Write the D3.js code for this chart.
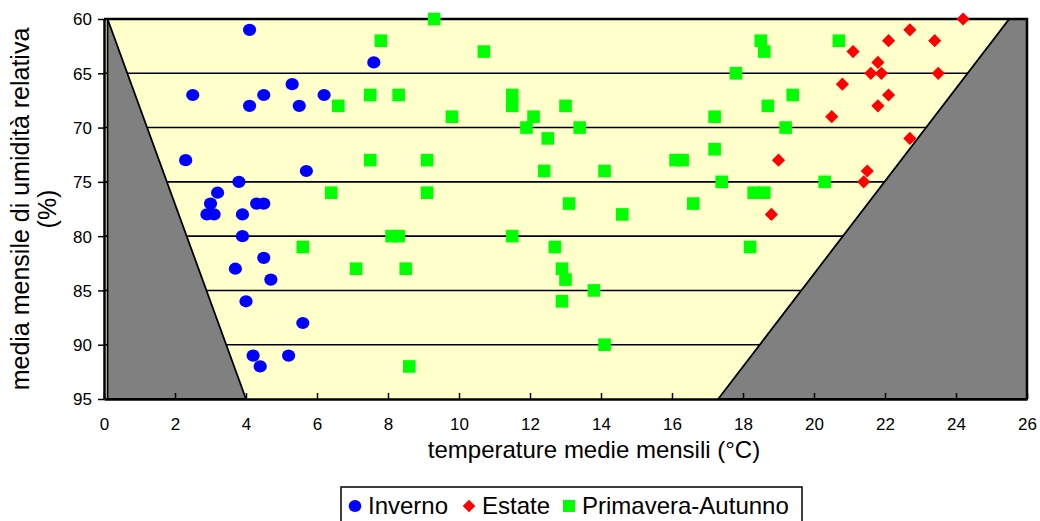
<!DOCTYPE html>
<html><head><meta charset="utf-8">
<script src="https://cdn.jsdelivr.net/npm/d3@7"></script>
<style>body{margin:0;background:#fff}svg{display:block;font-family:"Liberation Sans",Arial,sans-serif}</style>
</head><body>
<svg id="c" width="1040" height="521"></svg>
<script>
// ---- data ----
const inverno = [[4.1,61],[2.5,67],[4.1,68],[4.5,67],[5.3,66],[5.5,68],[6.2,67],[7.6,64],[2.3,73],[5.7,74],[3.8,75],[3.2,76],[3.0,77],[4.3,77],[4.5,77],[2.9,78],[3.1,78],[3.9,78],[3.9,80],[4.5,82],[3.7,83],[4.7,84],[4.0,86],[5.6,88],[4.2,91],[5.2,91],[4.4,92]];
const estate = [[24.2,60],[22.7,61],[22.1,62],[23.4,62],[21.1,63],[21.8,64],[21.6,65],[21.9,65],[23.5,65],[20.8,66],[22.1,67],[21.8,68],[20.5,69],[22.7,71],[19.0,73],[21.5,74],[21.4,75],[18.8,78]];
const primaveraAutunno = [[6.6,68],[6.4,76],[9.3,60],[7.8,62],[10.7,63],[7.5,67],[8.3,67],[11.5,67],[11.5,68],[13.0,68],[9.8,69],[12.1,69],[11.9,70],[13.4,70],[12.5,71],[7.5,73],[9.1,73],[12.4,74],[14.1,74],[9.1,76],[13.1,77],[8.1,80],[8.3,80],[11.5,80],[12.7,81],[7.1,83],[8.5,83],[12.9,83],[13.0,84],[13.8,85],[12.9,86],[14.1,90],[8.6,92],[5.6,81],[18.5,62],[18.6,63],[20.7,62],[17.8,65],[19.4,67],[18.7,68],[17.2,69],[19.2,70],[17.2,72],[16.1,73],[16.3,73],[17.4,75],[20.3,75],[18.3,76],[18.6,76],[16.6,77],[14.6,78],[18.2,81]];
const leftZone = [[0.1,60],[4,95],[0.1,95]];
const rightZone = [[25.5,60],[26,60],[26,95],[17.3,95]];
const xTicks = [0,2,4,6,8,10,12,14,16,18,20,22,24,26];
const yTicks = [60,65,70,75,80,85,90,95];
const seriesNames = ["Inverno","Estate","Primavera-Autunno"];
const seriesColors = ["#0000FF","#FF0000","#00FF00"];
const xTitle = "temperature medie mensili (°C)";
const yTitle = ["media mensile di umidità relativa","(%)"];

// ---- chart ----
const svg = d3.select("#c");
const x = d3.scaleLinear().domain([0,26]).range([104,1027]);
const y = d3.scaleLinear().domain([60,95]).range([19,399]);

svg.append("rect").attr("x",x(0)).attr("y",y(60)).attr("width",x(26)-x(0)).attr("height",y(95)-y(60)).attr("fill","#FFFFCC");

// gridlines
svg.append("g").selectAll("line").data(yTicks.slice(1,-1)).join("line")
  .attr("x1",x(0)).attr("x2",x(26)).attr("y1",d=>y(d)).attr("y2",d=>y(d))
  .attr("stroke","#000").attr("stroke-width",1.6);

// gray zones
const line = d3.line().x(d=>x(d[0])).y(d=>y(d[1]));
[leftZone,rightZone].forEach(z=>{
  svg.append("path").attr("d",line(z)+"Z").attr("fill","#808080").attr("stroke","#000").attr("stroke-width",1.8).attr("stroke-linejoin","miter");
});

// frame (top & right)
svg.append("path").attr("d",`M${x(0)},${y(60)}H${x(26)}V${y(95)}`).attr("fill","none").attr("stroke","#000").attr("stroke-width",2.5);

// axes
const xAxis = svg.append("g").attr("transform",`translate(0,${y(95)})`)
  .call(d3.axisBottom(x).tickValues(xTicks).tickSizeInner(-6).tickSizeOuter(0).tickPadding(31));
const yAxis = svg.append("g").attr("transform",`translate(${x(0)},0)`)
  .call(d3.axisLeft(y).tickValues(yTicks).tickSizeInner(6).tickSizeOuter(0).tickPadding(6));
[xAxis,yAxis].forEach(a=>{
  a.select(".domain").attr("stroke","#000").attr("stroke-width",2.5);
  a.selectAll(".tick line").attr("stroke","#000").attr("stroke-width",1.5);
  a.selectAll("text").attr("fill","#000").style("font-size","17px").style("font-family","'Liberation Sans',Arial,sans-serif");
});
xAxis.selectAll("text").attr("dy","0");
yAxis.selectAll("text").attr("dy","0.35em");

// titles
svg.append("text").attr("x",594).attr("y",458).attr("text-anchor","middle").style("font-size","24px").text(xTitle);
const yt = svg.append("text").attr("transform",`translate(29,${(y(60)+y(95))/2}) rotate(-90)`).attr("text-anchor","middle").style("font-size","25px");
yTitle.forEach((t,i)=>yt.append("tspan").attr("x",0).attr("dy",i?27:0).text(t));

// markers
const diamond = r=>`M0,${-r}L${r},0L0,${r}L${-r},0Z`;
svg.append("g").selectAll("ellipse").data(inverno).join("ellipse")
  .attr("cx",d=>x(d[0])).attr("cy",d=>y(d[1])).attr("rx",6.6).attr("ry",6.1).attr("fill",seriesColors[0]);
svg.append("g").selectAll("path").data(estate).join("path")
  .attr("transform",d=>`translate(${x(d[0])},${y(d[1])})`).attr("d",diamond(6.6)).attr("fill",seriesColors[1]);
svg.append("g").selectAll("rect").data(primaveraAutunno).join("rect")
  .attr("x",d=>x(d[0])-6.3).attr("y",d=>y(d[1])-6.3).attr("width",12.6).attr("height",12.6).attr("fill",seriesColors[2]);

// legend
const lg = svg.append("g");
lg.append("rect").attr("x",341).attr("y",487).attr("width",461).attr("height",50).attr("fill","#fff").attr("stroke","#000").attr("stroke-width",1.5);
const lx = [355,469,569];
lg.append("ellipse").attr("cx",lx[0]).attr("cy",506).attr("rx",6.3).attr("ry",6).attr("fill",seriesColors[0]);
lg.append("path").attr("transform",`translate(${lx[1]},506)`).attr("d",diamond(6.3)).attr("fill",seriesColors[1]);
lg.append("rect").attr("x",lx[2]-6).attr("y",500).attr("width",12).attr("height",12).attr("fill",seriesColors[2]);
seriesNames.forEach((n,i)=>lg.append("text").attr("x",lx[i]+13).attr("y",514).style("font-size","24px").text(n));
</script>
</body></html>
